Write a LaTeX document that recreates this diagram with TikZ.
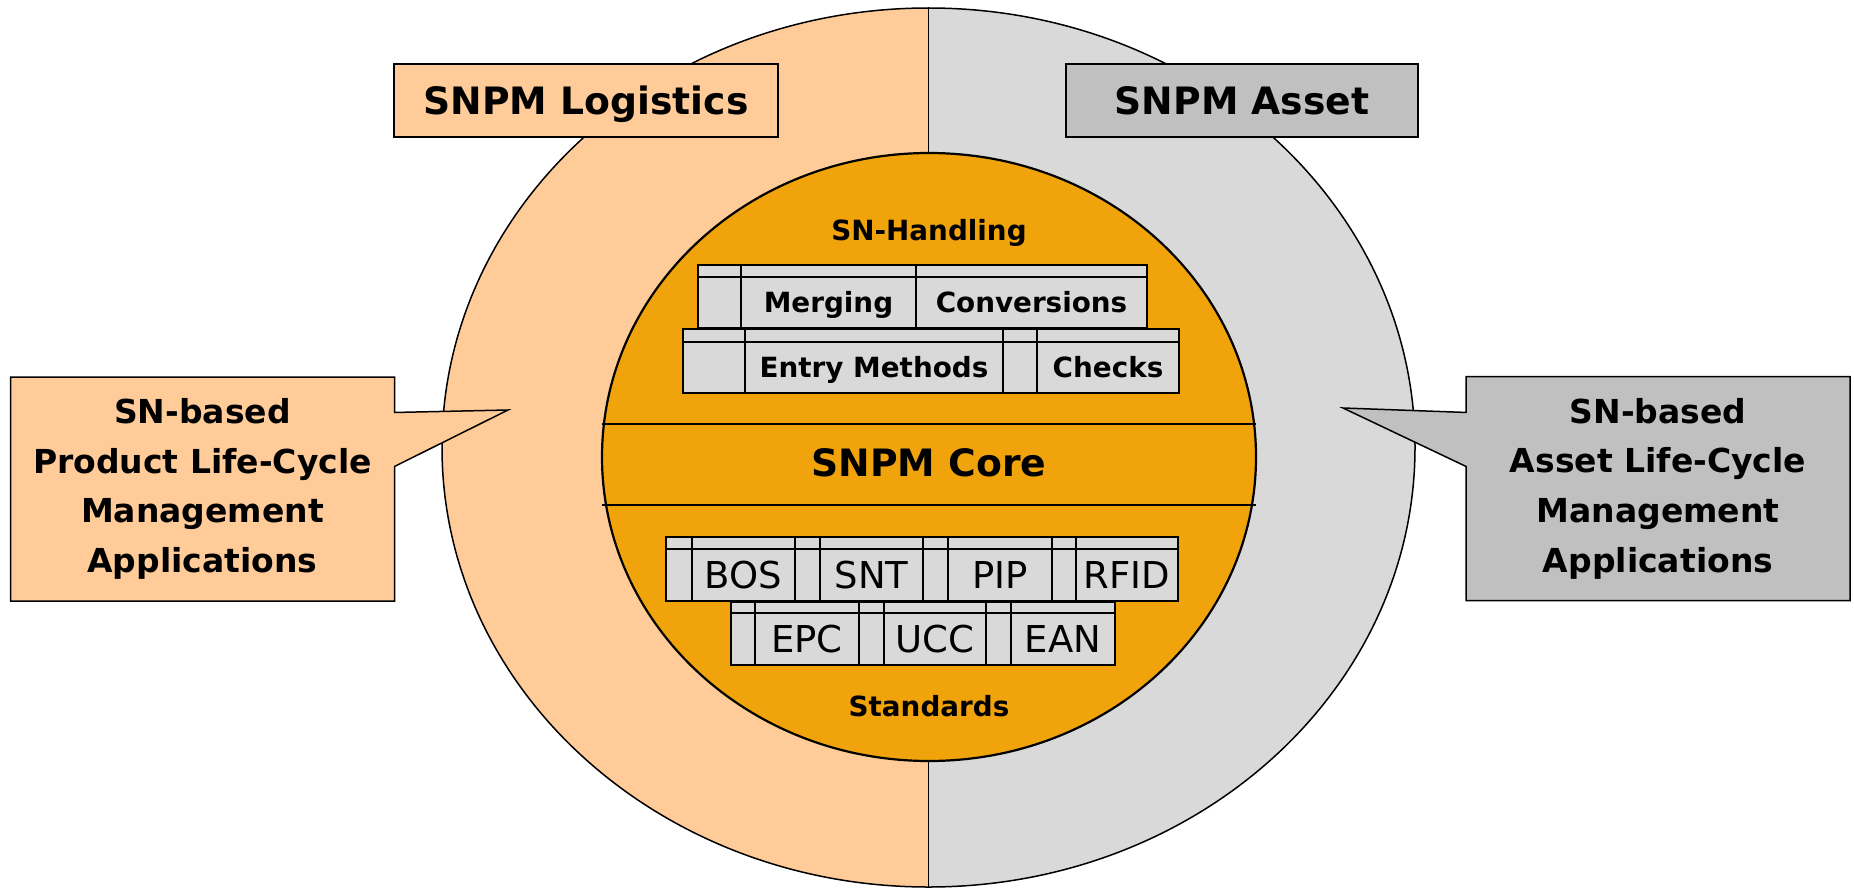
\documentclass[tikz,border=0pt]{standalone}
\usepackage{fontspec}
\setmainfont{DejaVu Sans}
\usetikzlibrary{shapes.callouts}

\definecolor{peach}{HTML}{FFCC99}
\definecolor{lightgrey}{HTML}{D9D9D9}
\definecolor{midgrey}{HTML}{C0C0C0}
\definecolor{coreorange}{HTML}{F0A30A}

\tikzset{
  cell/.style={draw, fill=lightgrey, line width=1.5pt},
  celltext/.style={inner sep=0pt, text height=20.3pt, text depth=0pt,
    font=\fontsize{27.8}{30}\selectfont\bfseries},
  stdtext/.style={inner sep=0pt, text height=27pt, text depth=0pt,
    font=\fontsize{37}{40}\selectfont},
  titlebox/.style={draw, line width=1.5pt, inner sep=0pt, minimum height=73,
    text height=27.5pt, text depth=0pt, font=\fontsize{37.7}{40}\selectfont\bfseries},
  appbox/.style={rectangle callout, draw, line width=1.5pt, inner sep=0pt,
    minimum width=384, minimum height=224, callout pointer width=54pt, align=center,
    font=\fontsize{33}{49.6}\selectfont\bfseries}
}

\begin{document}
\begin{tikzpicture}[x=1pt, y=-1pt]
  \useasboundingbox (0,0) rectangle (1854,888);

  % Outer ellipse, two halves
  \begin{scope}
    \clip (0,0) rectangle (928.5,888);
    \fill[peach] (928.5,447.5) ellipse [x radius=486.5, y radius=439.5];
  \end{scope}
  \begin{scope}
    \clip (928.5,0) rectangle (1854,888);
    \fill[lightgrey] (928.5,447.5) ellipse [x radius=486.5, y radius=439.5];
  \end{scope}
  \draw[line width=1.5pt] (928.5,447.5) ellipse [x radius=486.5, y radius=439.5];
  \draw[line width=1.3pt] (928.5,8) -- (928.5,887);

  % Core circle
  \filldraw[fill=coreorange, line width=2.2pt] (929,457) ellipse [x radius=327, y radius=304];
  \draw[line width=1.8pt] (602,424) -- (1256,424);
  \draw[line width=1.8pt] (602,505) -- (1256,505);
  \node[titlebox, draw=none] (core) at (929,463) {SNPM Core};

  % SN-Handling
  \node[celltext] (handling) at (929,230) {SN-Handling};
  \foreach \xa/\xb in {698/741, 741/916, 916/1147}
    {\draw[cell] (\xa,265) rectangle (\xb,328) (\xa,277) -- (\xb,277);}
  \foreach \xa/\xb in {683/745, 745/1003, 1003/1037, 1037/1179}
    {\draw[cell] (\xa,329) rectangle (\xb,393) (\xa,342) -- (\xb,342);}
  \node[celltext] (merging) at (828.5,302.5) {Merging};
  \node[celltext] (conversions) at (1031.5,302.5) {Conversions};
  \node[celltext] (entry) at (874,367.5) {Entry Methods};
  \node[celltext] (checks) at (1108,367.5) {Checks};

  % Standards
  \foreach \xa/\xb in {666/692, 692/795, 795/820, 820/923, 923/948, 948/1052, 1052/1076, 1076/1178}
    {\draw[cell] (\xa,537) rectangle (\xb,601) (\xa,549) -- (\xb,549);}
  \foreach \xa/\xb in {731/755, 755/859, 859/884, 884/986, 986/1011, 1011/1115}
    {\draw[cell] (\xa,602) rectangle (\xb,665) (\xa,613) -- (\xb,613);}
  \node[stdtext] (bos) at (743.5,575) {BOS};
  \node[stdtext] (snt) at (871.5,575) {SNT};
  \node[stdtext] (pip) at (1000,575) {PIP};
  \node[stdtext] (rfid) at (1127,575) {RFID};
  \node[stdtext] (epc) at (807,639) {EPC};
  \node[stdtext] (ucc) at (935,639) {UCC};
  \node[stdtext] (ean) at (1063,639) {EAN};
  \node[celltext] (standards) at (929,706) {Standards};

  % Module boxes
  \node[titlebox, fill=peach, minimum width=384] (logistics) at (586,100.5) {SNPM Logistics};
  \node[titlebox, fill=midgrey, minimum width=352] (asset) at (1242,100.5) {SNPM Asset};

  % Applications
  \node[appbox, fill=peach, callout absolute pointer={(508,410)}] (productapps) at (202.5,489)
    {SN-based\\Product Life-Cycle\\Management\\Applications};
  \node[appbox, fill=midgrey, callout absolute pointer={(1343,408)}] (assetapps) at (1658,488.5)
    {SN-based\\Asset Life-Cycle\\Management\\Applications};
\end{tikzpicture}
\end{document}
